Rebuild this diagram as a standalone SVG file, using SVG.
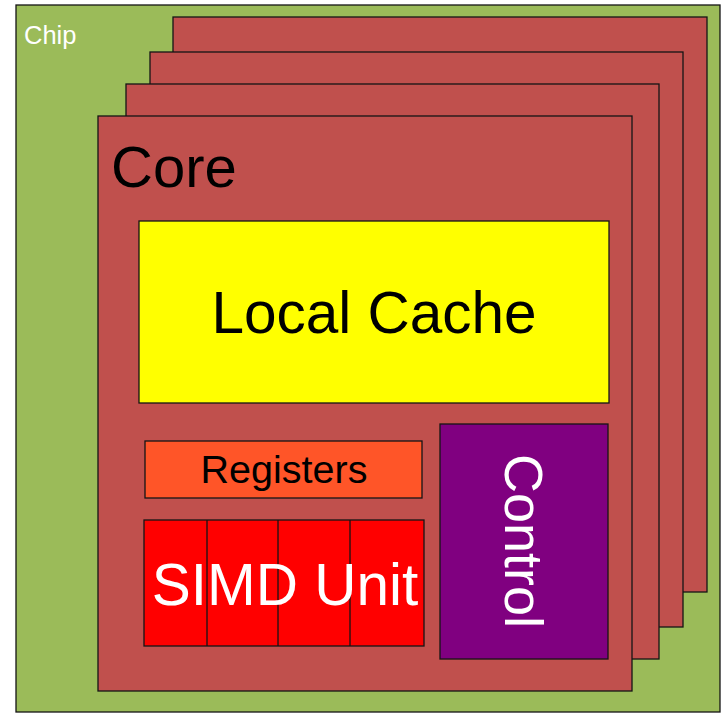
<svg xmlns="http://www.w3.org/2000/svg" width="725" height="714" viewBox="0 0 725 714">
<style>
.box{stroke:#141414;stroke-width:1.3}
.core{fill:#C0504D}
text{font-family:"Liberation Sans",Arial,sans-serif}
.w{fill:#ffffff}
.b{fill:#000000}
</style>
<rect width="725" height="714" fill="#ffffff"/>
<g id="chip">
<rect class="box" x="16" y="5" width="704" height="707" fill="#9BBB59"/>
<text class="w" x="24" y="44" font-size="25.5">Chip</text>
</g>
<g id="core-back3"><rect class="box core" x="173" y="17" width="534" height="575"/></g>
<g id="core-back2"><rect class="box core" x="150" y="52" width="533" height="575"/></g>
<g id="core-back1"><rect class="box core" x="126" y="84" width="533" height="575"/></g>
<g id="core">
<rect class="box core" x="98" y="116" width="534" height="575"/>
<text class="b" x="111" y="187" font-size="58">Core</text>
</g>
<g id="local-cache">
<rect class="box" x="139" y="221" width="470" height="182" fill="#FFFF00"/>
<text class="b" x="374" y="333" font-size="58.5" text-anchor="middle">Local Cache</text>
</g>
<g id="registers">
<rect class="box" x="145" y="441" width="277" height="57" fill="#FF5528"/>
<text class="b" x="284" y="483" font-size="39.5" text-anchor="middle">Registers</text>
</g>
<g id="simd-unit">
<rect class="box" x="144" y="520" width="280" height="126" fill="#FF0000"/>
<line class="box" x1="207" y1="520" x2="207" y2="646"/>
<line class="box" x1="278" y1="520" x2="278" y2="646"/>
<line class="box" x1="350" y1="520" x2="350" y2="646"/>
<text class="w" x="285" y="605" font-size="58.5" text-anchor="middle">SIMD Unit</text>
</g>
<g id="control">
<rect class="box" x="440" y="424" width="168" height="235" fill="#800080"/>
<text class="w" font-size="54" text-anchor="middle" transform="translate(505,541) rotate(90)">Control</text>
</g>
<g id="connectors"></g>
</svg>
